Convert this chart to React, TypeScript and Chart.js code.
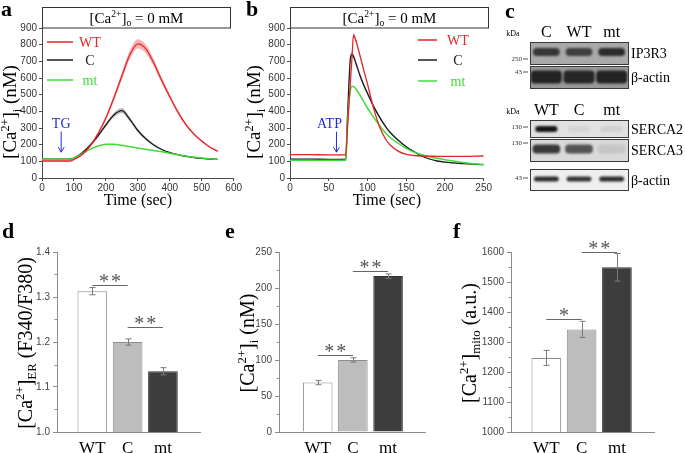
import React, { useEffect, useRef } from 'react';
import { Chart, registerables } from 'chart.js';

Chart.register(...registerables);

const SERIF = '"Liberation Serif", "Times New Roman", serif';
const SANS = '"Liberation Sans", Arial, sans-serif';

// ---------------- Panel a : TG response, [Ca2+]o = 0 mM ----------------
const timeA = [0, 25, 50, 75, 90, 100, 125, 150, 175, 200, 225, 250, 275, 300, 325, 350, 375, 400, 425, 450, 475, 500, 525, 550];
const wtA = [102, 102, 102, 102, 103, 112, 140, 190, 265, 360, 480, 612, 740, 805, 775, 690, 585, 488, 397, 322, 265, 222, 186, 160];
const wtAErr = [3, 3, 3, 3, 3, 4, 6, 8, 10, 14, 18, 22, 26, 28, 26, 22, 18, 15, 12, 10, 8, 6, 5, 5];
const cA = [113, 113, 113, 113, 114, 120, 150, 195, 252, 318, 378, 404, 352, 285, 235, 198, 171, 153, 140, 130, 123, 118, 114, 112];
const cAErr = [3, 3, 3, 3, 3, 3, 5, 7, 9, 11, 14, 16, 13, 10, 8, 6, 5, 4, 3, 3, 3, 3, 3, 3];
const mtA = [113, 113, 113, 113, 114, 120, 145, 172, 192, 203, 202, 196, 188, 180, 172, 165, 157, 148, 140, 132, 125, 120, 115, 112];
const xTicksA = { min: 0, max: 600, step: 100 };

// ---------------- Panel b : ATP response ----------------
const timeB = [0, 25, 50, 70, 72, 74, 76, 78, 80, 82, 85, 90, 95, 100, 105, 110, 115, 120, 125, 130, 140, 150, 160, 170, 180, 190, 200, 225, 250];
const wtB = [140, 140, 139, 139, 140, 285, 430, 575, 720, 858, 825, 740, 650, 565, 470, 385, 315, 262, 222, 195, 160, 142, 135, 132, 131, 130, 130, 130, 132];
const wtBErr = [2, 2, 2, 2, 2, 6, 8, 10, 12, 14, 12, 10, 8, 7, 6, 5, 4, 4, 3, 3, 3, 2, 2, 2, 2, 2, 2, 2, 2];
const cB = [113, 113, 112, 112, 113, 350, 560, 720, 742, 730, 690, 620, 560, 508, 458, 412, 370, 332, 298, 270, 225, 188, 158, 132, 114, 102, 95, 86, 80];
const cBErr = [2, 2, 2, 2, 2, 10, 14, 16, 16, 16, 15, 14, 13, 12, 11, 10, 9, 8, 7, 6, 5, 4, 3, 3, 2, 2, 2, 2, 2];
const mtB = [106, 106, 106, 106, 107, 300, 450, 528, 550, 548, 535, 500, 460, 420, 385, 350, 318, 288, 262, 240, 207, 178, 155, 140, 128, 118, 110, 92, 80];
const xTicksB = { min: 0, max: 250, step: 50 };
const yTicksAB = { min: 0, max: 900, step: 100 };

// ---------------- Panel c : western blots (band darkness 0..1) ----------------
const laneLabelsTop = ['C', 'WT', 'mt'];
const laneLabelsBottom = ['WT', 'C', 'mt'];
const blotNames = ['IP3R3', 'β-actin', 'SERCA2', 'SERCA3', 'β-actin'];
const blotMarkers = ['250', '43', '130', '130', '43'];
const ip3r3Band = [0.78, 0.72, 0.86];
const actinBandTop = [0.9, 0.88, 0.9];
const serca2Band = [1.0, 0.06, 0.08];
const serca3Band = [0.82, 0.68, 0.1];
const actinBandBottom = [0.9, 0.86, 0.9];

// ---------------- Panels d, e, f ----------------
const groups = ['WT', 'C', 'mt'];
const erCa = [1.313, 1.2, 1.135];
const erCaErr = [0.008, 0.007, 0.008];
const erSig = [{ from: 1, to: 2, y: 1.327, label: '**' }, { from: 2, to: 3, y: 1.234, label: '**' }];
const cytCa = [68.7, 100, 216.5];
const cytCaErr = [3, 3, 3];
const cytSig = [{ from: 1, to: 2, y: 107, label: '**' }, { from: 2, to: 3, y: 223.7, label: '**' }];
const mitoCa = [1247, 1342, 1549];
const mitoCaErr = [25, 27, 46];
const mitoSig = [{ from: 1, to: 2, y: 1378, label: '*' }, { from: 2, to: 3, y: 1601, label: '**' }];

// ---------------- styles ----------------
const WT_COLOR = '#e5262b';
const C_COLOR = '#1c1c1c';
const MT_COLOR = '#3fdc3a';
const BAR_FILLS = ['#ffffff', '#bdbdbd', '#3d3d3d'];
const BAR_EDGES = ['#8c8c8c', '#8c8c8c', '#333333'];
const AX = '#8c8c8c';
const AX_DARK = '#4a4a4a';

type Seg = [string, string?];
const CA_I: Seg[] = [['[Ca'], ['2+', 'sup'], [']'], ['i', 'sub'], [' (nM)']];
const CA_O_TITLE: Seg[] = [['[Ca'], ['2+', 'sup'], [']'], ['o', 'sub'], [' = 0 mM']];
const CA_ER: Seg[] = [['[Ca'], ['2+', 'sup'], [']'], ['ER', 'sub'], [' (F340/F380)']];
const CA_MITO: Seg[] = [['[Ca'], ['2+', 'sup'], [']'], ['mito', 'sub'], [' (a.u.)']];

function drawRich(ctx: any, segs: Seg[], x: number, y: number, size: number, opts: any = {}) {
  const fam = opts.family || SERIF;
  const small = size * 0.64;
  ctx.save();
  ctx.translate(x, y);
  if (opts.rotate) ctx.rotate(-Math.PI / 2);
  ctx.fillStyle = opts.color || '#000';
  ctx.textBaseline = 'alphabetic';
  ctx.textAlign = 'left';
  const fonts = segs.map((s) => `${s[1] ? small : size}px ${fam}`);
  const ws = segs.map((s, i) => { ctx.font = fonts[i]; return ctx.measureText(s[0]).width; });
  const tot = ws.reduce((a, b) => a + b, 0);
  let cx = opts.align === 'left' ? 0 : -tot / 2;
  const base = size * 0.34;
  segs.forEach((s, i) => {
    ctx.font = fonts[i];
    const dy = s[1] === 'sup' ? -size * 0.4 : s[1] === 'sub' ? size * 0.22 : 0;
    ctx.fillText(s[0], cx, base + dy);
    cx += ws[i];
  });
  ctx.restore();
}

function seg(ctx: any, x0: number, y0: number, x1: number, y1: number) {
  ctx.beginPath();
  ctx.moveTo(x0, y0);
  ctx.lineTo(x1, y1);
  ctx.stroke();
}

// ---------------- line panels (a, b) ----------------
function linePanelPlugin(o: any) {
  return {
    id: 'linePanel' + o.letter,
    afterDraw(chart: any) {
      const { ctx, chartArea: ca, scales } = chart;
      const xs = scales.x;
      const ys = scales.y;
      const X = (v: number) => v - o.ox;
      ctx.save();
      // condition box
      ctx.strokeStyle = '#333';
      ctx.lineWidth = 1;
      const bl = Math.round(ca.left) + 0.5;
      const br = Math.round(X(o.boxRight)) + 0.5;
      ctx.strokeRect(bl, 7.5, br - bl, Math.round(ca.top) - 7.5);
      drawRich(ctx, CA_O_TITLE, (bl + br) / 2, 17.5, 15);
      // panel letter
      ctx.font = `bold 22px ${SERIF}`;
      ctx.fillStyle = '#000';
      ctx.textAlign = 'left';
      ctx.textBaseline = 'alphabetic';
      ctx.fillText(o.letter, X(o.letterX), 16);
      // axis titles
      drawRich(ctx, CA_I, X(o.yTitleX), 112, 19, { rotate: true });
      drawRich(ctx, [['Time (sec)']], (ca.left + ca.right) / 2, 200, 16);
      // legend
      const rows = [
        { t: 'WT', c: WT_COLOR },
        { t: 'C', c: C_COLOR },
        { t: 'mt', c: MT_COLOR },
      ];
      rows.forEach((r, i) => {
        const yy = o.legY[i];
        ctx.strokeStyle = r.c;
        ctx.lineWidth = 1.5;
        seg(ctx, X(o.legLine[0]), yy, X(o.legLine[1]), yy);
        ctx.fillStyle = r.c;
        ctx.font = `14px ${SERIF}`;
        ctx.textAlign = 'center';
        ctx.textBaseline = 'middle';
        ctx.fillText(r.t, X(o.legText), yy + 1);
      });
      // stimulus arrow
      const ax = xs.getPixelForValue(o.stimAt);
      const ty = ys.getPixelForValue(320);
      const a0 = ys.getPixelForValue(278);
      const a1 = ys.getPixelForValue(155);
      ctx.fillStyle = '#1f2fd0';
      ctx.strokeStyle = '#1f2fd0';
      ctx.font = `14px ${SERIF}`;
      ctx.textAlign = 'center';
      ctx.textBaseline = 'middle';
      ctx.fillText(o.stim, ax + o.stimDx, ty);
      ctx.lineWidth = 1;
      seg(ctx, ax, a0, ax, a1);
      seg(ctx, ax - 3, a1 - 5, ax, a1);
      seg(ctx, ax + 3, a1 - 5, ax, a1);
      ctx.restore();
    },
  };
}

function makeLineConfig(o: any) {
  const pts = (v: number[]) => o.t.map((t: number, i: number) => ({ x: t, y: v[i] }));
  const up = (v: number[], e: number[]) => v.map((y, i) => y + e[i]);
  const lo = (v: number[], e: number[]) => v.map((y, i) => y - e[i]);
  const base = { pointRadius: 0, cubicInterpolationMode: 'monotone', fill: false };
  const bandTop = { ...base, borderWidth: 0, borderColor: 'rgba(0,0,0,0)' };
  return {
    type: 'line',
    data: {
      datasets: [
        { ...base, data: pts(o.wt), borderColor: WT_COLOR, borderWidth: 1.3 },
        { ...base, data: pts(o.mt), borderColor: MT_COLOR, borderWidth: 1.5 },
        { ...base, data: pts(o.c), borderColor: C_COLOR, borderWidth: 1.3 },
        { ...bandTop, data: pts(up(o.wt, o.wtErr)) },
        { ...bandTop, data: pts(lo(o.wt, o.wtErr)), fill: '-1', backgroundColor: 'rgba(240,105,110,0.5)' },
        { ...bandTop, data: pts(up(o.c, o.cErr)) },
        { ...bandTop, data: pts(lo(o.c, o.cErr)), fill: '-1', backgroundColor: 'rgba(70,70,70,0.35)' },
      ],
    },
    options: {
      animation: false,
      responsive: false,
      devicePixelRatio: 1,
      layout: { padding: { left: 0, right: o.padRight, top: 28, bottom: 0 } },
      plugins: { legend: { display: false }, tooltip: { enabled: false } },
      scales: {
        x: {
          type: 'linear', min: o.xt.min, max: o.xt.max,
          ticks: { stepSize: o.xt.step, font: { family: SANS, size: 10 }, color: '#333', padding: 1, maxRotation: 0 },
          grid: { drawOnChartArea: false, tickLength: 3, color: AX_DARK },
          border: { color: AX_DARK },
          afterFit: (s: any) => { s.height = 34; },
        },
        y: {
          type: 'linear', min: yTicksAB.min, max: yTicksAB.max,
          ticks: { stepSize: yTicksAB.step, font: { family: SANS, size: 10 }, color: '#333', padding: 2 },
          grid: { drawOnChartArea: false, tickLength: 3, color: AX_DARK },
          border: { color: AX_DARK },
          afterFit: (s: any) => { s.width = o.yWidth; },
        },
      },
    },
    plugins: [linePanelPlugin(o)],
  };
}

// ---------------- blot panel (c) ----------------
const BLOT_ROWS = [
  { top: 42, bottom: 64, center: 52, h: 8, w: 0.82, bg: '#a9a9a9', marker: 59 },
  { top: 66, bottom: 88, center: 77, h: 13, w: 0.95, bg: '#999999', marker: 72 },
  { top: 120, bottom: 137, center: 129, h: 6, w: 0.68, bg: '#e1e1e1', marker: 127 },
  { top: 139, bottom: 161, center: 149, h: 9, w: 0.85, bg: '#d9d9d9', marker: 143 },
  { top: 169, bottom: 190, center: 179, h: 5, w: 0.76, bg: '#efefef', marker: 178 },
];

function mix(hex: string, v: number) {
  const n = parseInt(hex.slice(1), 16);
  const r = (n >> 16) & 255, g = (n >> 8) & 255, b = n & 255;
  const d = 22;
  const f = (c: number) => Math.round(c * (1 - v) + d * v);
  return `rgb(${f(r)},${f(g)},${f(b)})`;
}

function makeBlotConfig() {
  const ox = 500;
  const bands = [ip3r3Band, actinBandTop, serca2Band, serca3Band, actinBandBottom];
  const plugin = {
    id: 'blot',
    beforeDatasetsDraw(chart: any) {
      const { ctx, chartArea: ca, scales } = chart;
      ctx.save();
      BLOT_ROWS.forEach((r) => {
        const t = scales.y.getPixelForValue(r.top);
        const b = scales.y.getPixelForValue(r.bottom);
        ctx.fillStyle = r.bg;
        ctx.fillRect(ca.left, t, ca.right - ca.left, b - t);
      });
      ctx.restore();
      ctx.save();
      ctx.filter = 'blur(1.2px)';
    },
    afterDatasetsDraw(chart: any) {
      const { ctx, chartArea: ca, scales } = chart;
      ctx.restore();
      ctx.save();
      ctx.strokeStyle = '#3a3a3a';
      ctx.lineWidth = 1;
      BLOT_ROWS.forEach((r, k) => {
        const t = Math.round(scales.y.getPixelForValue(r.top)) + 0.5;
        const b = Math.round(scales.y.getPixelForValue(r.bottom)) + 0.5;
        ctx.strokeRect(Math.round(ca.left) + 0.5, t, Math.round(ca.right - ca.left), b - t);
        // protein names
        ctx.fillStyle = '#000';
        ctx.font = `14px ${SERIF}`;
        ctx.textAlign = 'left';
        ctx.textBaseline = 'middle';
        ctx.fillText(blotNames[k], ca.right + 3, (t + b) / 2 + 1);
        // MW markers
        const my = scales.y.getPixelForValue(r.marker);
        ctx.font = `7px ${SERIF}`;
        ctx.fillStyle = '#333';
        ctx.textAlign = 'right';
        ctx.fillText(blotMarkers[k], ca.left - 8, my);
        ctx.strokeStyle = '#555';
        seg(ctx, ca.left - 7, my, ca.left - 2, my);
        ctx.strokeStyle = '#3a3a3a';
      });
      // headers
      ctx.fillStyle = '#000';
      ctx.textAlign = 'center';
      ctx.textBaseline = 'middle';
      const hdr = (labels: string[], y: number) => {
        ctx.font = `8px ${SERIF}`;
        ctx.fillText('kDa', 513 - ox, y + 1);
        ctx.font = `16px ${SERIF}`;
        labels.forEach((l, i) => ctx.fillText(l, scales.x.getPixelForValue(i + 1), y));
      };
      hdr(laneLabelsTop, 33);
      hdr(laneLabelsBottom, 111);
      ctx.font = `bold 22px ${SERIF}`;
      ctx.textAlign = 'left';
      ctx.textBaseline = 'alphabetic';
      ctx.fillText('c', 505 - ox, 18);
      ctx.restore();
    },
  };
  return {
    type: 'bar',
    data: {
      datasets: BLOT_ROWS.map((r, k) => ({
        data: bands[k].map((v, i) => ({ x: i + 1, y: [r.center - r.h / 2, r.center + r.h / 2] })),
        backgroundColor: bands[k].map((v) => mix(r.bg, v)),
        barPercentage: r.w,
        categoryPercentage: 1,
        grouped: false,
        borderRadius: 4,
        borderSkipped: false,
        borderWidth: 0,
      })),
    },
    options: {
      animation: false,
      responsive: false,
      devicePixelRatio: 1,
      layout: { padding: { left: 30, right: 57, top: 0, bottom: 0 } },
      plugins: { legend: { display: false }, tooltip: { enabled: false } },
      scales: {
        x: { type: 'linear', min: 0.5, max: 3.5, display: false, offset: false, grid: { offset: false } },
        y: { type: 'linear', min: 0, max: 205, reverse: true, display: false },
      },
    },
    plugins: [plugin],
  };
}

// ---------------- bar panels (d, e, f) ----------------
function barPanelPlugin(o: any) {
  return {
    id: 'barPanel' + o.letter,
    afterDraw(chart: any) {
      const { ctx, chartArea: ca, scales } = chart;
      const xs = scales.x;
      const ys = scales.y;
      ctx.save();
      // minor ticks
      ctx.strokeStyle = AX;
      ctx.lineWidth = 1;
      for (let k = 0; k < Math.round((o.yMax - o.yMin) / o.step); k++) {
        const v = o.yMin + (k + 0.5) * o.step;
        const py = Math.round(ys.getPixelForValue(v)) + 0.5;
        seg(ctx, ca.left - 2.5, py, ca.left, py);
      }
      // error bars
      ctx.strokeStyle = '#7a7a7a';
      o.values.forEach((v: number, i: number) => {
        const px = Math.round(xs.getPixelForValue(i + 1)) + 0.5;
        const t = ys.getPixelForValue(v + o.errs[i]);
        const b = ys.getPixelForValue(v - o.errs[i]);
        seg(ctx, px, t, px, b);
        seg(ctx, px - 3, t, px + 3, t);
        seg(ctx, px - 3, b, px + 3, b);
      });
      // significance brackets
      o.sig.forEach((s: any) => {
        const x0 = xs.getPixelForValue(s.from);
        const x1 = xs.getPixelForValue(s.to);
        const py = Math.round(ys.getPixelForValue(s.y)) + 0.5;
        ctx.strokeStyle = '#666';
        ctx.lineWidth = 1.2;
        seg(ctx, x0, py, x1, py);
        ctx.font = `20px ${SERIF}`;
        ctx.fillStyle = '#555';
        ctx.textAlign = 'center';
        ctx.textBaseline = 'alphabetic';
        (ctx as any).letterSpacing = '2px';
        ctx.fillText(s.label, (x0 + x1) / 2 + 1, py + 2.5);
        (ctx as any).letterSpacing = '0px';
      });
      // y title
      drawRich(ctx, o.title, o.yTitleX - o.ox, 343 - o.oy, 20, { rotate: true });
      // panel letter
      ctx.font = `bold 22px ${SERIF}`;
      ctx.fillStyle = '#000';
      ctx.textAlign = 'left';
      ctx.textBaseline = 'alphabetic';
      ctx.fillText(o.letter, o.letterX - o.ox, 238 - o.oy);
      ctx.restore();
    },
  };
}

function makeBarConfig(o: any) {
  return {
    type: 'bar',
    data: {
      datasets: [{
        data: o.values.map((v: number, i: number) => ({ x: i + 1, y: v })),
        backgroundColor: BAR_FILLS,
        borderColor: BAR_EDGES,
        borderWidth: 1,
        barPercentage: 0.84,
        categoryPercentage: 1,
      }],
    },
    options: {
      animation: false,
      responsive: false,
      devicePixelRatio: 1,
      layout: { padding: { left: 0, right: o.padRight, top: 37, bottom: 0 } },
      plugins: { legend: { display: false }, tooltip: { enabled: false } },
      scales: {
        x: {
          type: 'linear', min: o.xMin, max: o.xMax, offset: false,
          grid: { display: false, drawTicks: false, offset: false },
          border: { color: AX },
          afterBuildTicks: (s: any) => { s.ticks = [1, 2, 3].map((v) => ({ value: v })); },
          ticks: {
            autoSkip: false, maxRotation: 0, padding: 6,
            font: { family: SERIF, size: 17 }, color: '#000',
            callback: (_v: any, i: number) => groups[i],
          },
          afterFit: (s: any) => { s.height = 21; },
        },
        y: {
          type: 'linear', min: o.yMin, max: o.yMax,
          ticks: { stepSize: o.step, font: { family: SANS, size: 10 }, color: '#444', padding: 3, callback: o.fmt },
          grid: { drawOnChartArea: false, tickLength: 4, color: AX },
          border: { color: AX },
          afterFit: (s: any) => { s.width = o.yWidth; },
        },
      },
    },
    plugins: [barPanelPlugin(o)],
  };
}

// ---------------- configs ----------------
const configA = () => makeLineConfig({
  letter: 'a', ox: 0, t: timeA, wt: wtA, wtErr: wtAErr, c: cA, cErr: cAErr, mt: mtA, xt: xTicksA,
  padRight: 7, yWidth: 42, boxRight: 230, letterX: 1, yTitleX: 10,
  legLine: [47, 73], legText: 90, legY: [42, 60, 80], stim: 'TG', stimAt: 60, stimDx: 0,
});
const configB = () => makeLineConfig({
  letter: 'b', ox: 243, t: timeB, wt: wtB, wtErr: wtBErr, c: cB, cErr: cBErr, mt: mtB, xt: xTicksB,
  padRight: 9, yWidth: 47, boxRight: 488, letterX: 246, yTitleX: 254,
  legLine: [418, 437], legText: 458, legY: [40, 60, 81], stim: 'ATP', stimAt: 60, stimDx: -7,
});
const configD = () => makeBarConfig({
  letter: 'd', ox: 0, oy: 215, letterX: 2, yTitleX: 25, title: CA_ER,
  values: erCa, errs: erCaErr, sig: erSig, yMin: 1.0, yMax: 1.4, step: 0.1, fmt: (v: any) => Number(v).toFixed(1),
  xMin: 0, xMax: 4.05, padRight: 30, yWidth: 57,
});
const configE = () => makeBarConfig({
  letter: 'e', ox: 222, oy: 215, letterX: 225, yTitleX: 247, title: CA_I,
  values: cytCa, errs: cytCaErr, sig: cytSig, yMin: 0, yMax: 250, step: 50, fmt: (v: any) => String(Math.round(Number(v))),
  xMin: -0.1, xMax: 4.05, padRight: 30, yWidth: 57,
});
const configF = () => makeBarConfig({
  letter: 'f', ox: 450, oy: 215, letterX: 453, yTitleX: 469, title: CA_MITO,
  values: mitoCa, errs: mitoCaErr, sig: mitoSig, yMin: 1000, yMax: 1600, step: 100, fmt: (v: any) => String(Math.round(Number(v))),
  xMin: 0, xMax: 4.05, padRight: 31, yWidth: 61,
});

function ChartBox({ left, top, width, height, config }: any) {
  const ref = useRef<HTMLCanvasElement | null>(null);
  useEffect(() => {
    if (!ref.current) return;
    const chart = new Chart(ref.current, config() as any);
    return () => chart.destroy();
  }, []);
  return (
    <canvas
      ref={ref}
      width={width}
      height={height}
      style={{ position: 'absolute', left, top, width, height }}
    />
  );
}

export default function App() {
  return (
    <div style={{ position: 'fixed', left: 0, top: 0, width: 685, height: 453, background: '#fff', overflow: 'hidden' }}>
      <ChartBox left={0} top={0} width={243} height={212} config={configA} />
      <ChartBox left={243} top={0} width={250} height={212} config={configB} />
      <ChartBox left={500} top={0} width={185} height={205} config={makeBlotConfig} />
      <ChartBox left={0} top={215} width={230} height={238} config={configD} />
      <ChartBox left={222} top={215} width={233} height={238} config={configE} />
      <ChartBox left={450} top={215} width={235} height={238} config={configF} />
    </div>
  );
}
